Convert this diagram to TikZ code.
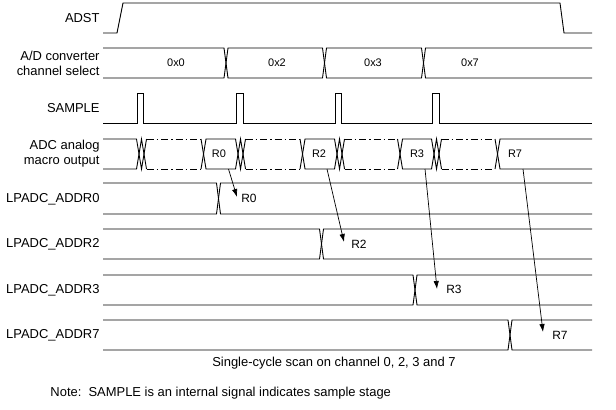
\documentclass[tikz,border=0pt]{standalone}
\usepackage{fontspec}
\setmainfont{Liberation Sans}
\usepackage{tikz}
\usetikzlibrary{arrows.meta}

\begin{document}
\begin{tikzpicture}[x=1bp,y=-1bp,line width=0.9bp,
		signame/.style={anchor=east,inner sep=0,align=right,font=\fontsize{13}{15}\selectfont},
		buslabel/.style={font=\fontsize{11}{12}\selectfont},
		outlabel/.style={font=\fontsize{12}{13}\selectfont},
		idle/.style={dash pattern=on 7bp off 3bp on 1.5bp off 3bp},
		fetch/.style={line width=0.7bp,-{Latex[length=8bp,width=5.5bp]}}]
		\useasboundingbox (0,0) rectangle (616,409);
%		\draw[help lines,step=10] (0,0) grid (616,409);
		\path (100,18) node(adst) [signame] {ADST};
		\path (100,63) node(ch_sel) [signame] {A/D converter\\channel select};
		\path (100,108) node(sample) [signame] {SAMPLE};
		\path (100,154) node(adc_out) [signame] {ADC analog\\macro output};
		\path (100,199) node(addr0) [signame] {LPADC\_ADDR0};
		\path (100,244) node(addr2) [signame] {LPADC\_ADDR2};
		\path (100,290) node(addr3) [signame] {LPADC\_ADDR3};
		\path (100,335) node(addr7) [signame] {LPADC\_ADDR7};
		\path (228.5,169) coordinate (r0_from);
		\path (327,169) coordinate (r2_from);
		\path (425,169) coordinate (r3_from);
		\path (523,169) coordinate (r7_from);
		\path (237,197) coordinate (r0_tip);
		\path (344,242) coordinate (r2_tip);
		\path (437,289) coordinate (r3_tip);
		\path (543,332) coordinate (r7_tip);

		% ADST
		\draw (103,33) -- (117,33) -- (123,3) -- (560,3) -- (564,33) -- (592,33);
		% channel select
		\draw (103,48) -- (224,48) -- (228,78) -- (322.5,78) -- (326.5,48) -- (421.5,48) -- (425.5,78) -- (592,78);
		\draw (103,78) -- (224,78) -- (228,48) -- (322.5,48) -- (326.5,78) -- (421.5,78) -- (425.5,48) -- (592,48);
		\path (176,63) node(ch0) [buslabel] {0x0};
		\path (277,63) node(ch2) [buslabel] {0x2};
		\path (373,63) node(ch3) [buslabel] {0x3};
		\path (470,63) node(ch7) [buslabel] {0x7};
		% SAMPLE
		\draw (103,123) -- (137,123) -- (137,93) -- (143,93) -- (143,123) -- (236,123) -- (236,93) -- (243,93) -- (243,123)
			-- (335,123) -- (335,93) -- (341,93) -- (341,123) -- (432,123) -- (432,93) -- (439,93) -- (439,123) -- (592,123);
		% ADC analog macro output
		\draw (103,139) -- (136.5,139) -- (141.5,169) -- (146.5,139);
		\draw (103,169) -- (136.5,169) -- (141.5,139) -- (146.5,169);
		\draw[idle] (146.5,139) -- (201,139) (146.5,169) -- (201,169);
		\draw (201,139) -- (206,169) -- (235.5,169) -- (240.5,139) -- (245.5,169);
		\draw (201,169) -- (206,139) -- (235.5,139) -- (240.5,169) -- (245.5,139);
		\draw[idle] (245.5,139) -- (300,139) (245.5,169) -- (300,169);
		\draw (300,139) -- (305,169) -- (334.5,169) -- (339.5,139) -- (344.5,169);
		\draw (300,169) -- (305,139) -- (334.5,139) -- (339.5,169) -- (344.5,139);
		\draw[idle] (344.5,139) -- (397.5,139) (344.5,169) -- (397.5,169);
		\draw (397.5,139) -- (402.5,169) -- (431.5,169) -- (436.5,139) -- (441.5,169);
		\draw (397.5,169) -- (402.5,139) -- (431.5,139) -- (436.5,169) -- (441.5,139);
		\draw[idle] (441.5,139) -- (495,139) (441.5,169) -- (495,169);
		\draw (495,139) -- (500,169) -- (592,169);
		\draw (495,169) -- (500,139) -- (592,139);
		\path (219,154) node(r0_adc) [buslabel] {R0};
		\path (319,154) node(r2_adc) [buslabel] {R2};
		\path (417,154) node(r3_adc) [buslabel] {R3};
		\path (515,154) node(r7_adc) [buslabel] {R7};
		% LPADC_ADDRx
		\draw (103,183) -- (216.5,183) -- (220.5,214) -- (592,214);
		\draw (103,214) -- (216.5,214) -- (220.5,183) -- (592,183);
		\draw (103,229) -- (319.5,229) -- (323.5,259) -- (592,259);
		\draw (103,259) -- (319.5,259) -- (323.5,229) -- (592,229);
		\draw (103,275) -- (413,275) -- (417,305) -- (592,305);
		\draw (103,305) -- (413,305) -- (417,275) -- (592,275);
		\draw (103,320) -- (508,320) -- (512,350) -- (592,350);
		\draw (103,350) -- (508,350) -- (512,320) -- (592,320);
		\path (249,198) node(r0_out) [outlabel] {R0};
		\path (359,244) node(r2_out) [outlabel] {R2};
		\path (454,289) node(r3_out) [outlabel] {R3};
		\path (560,335) node(r7_out) [outlabel] {R7};
		\draw[fetch] (r0_from) -- (r0_tip);
		\draw[fetch] (r2_from) -- (r2_tip);
		\draw[fetch] (r3_from) -- (r3_tip);
		\draw[fetch] (r7_from) -- (r7_tip);

		\path (334,363) node(caption) [signame,anchor=center] {Single-cycle scan on channel 0, 2, 3 and 7};
		\path (50,393) node(note) [signame,anchor=west] {Note:\ \ SAMPLE is an internal signal indicates sample stage};
	\end{tikzpicture}
\end{document}
